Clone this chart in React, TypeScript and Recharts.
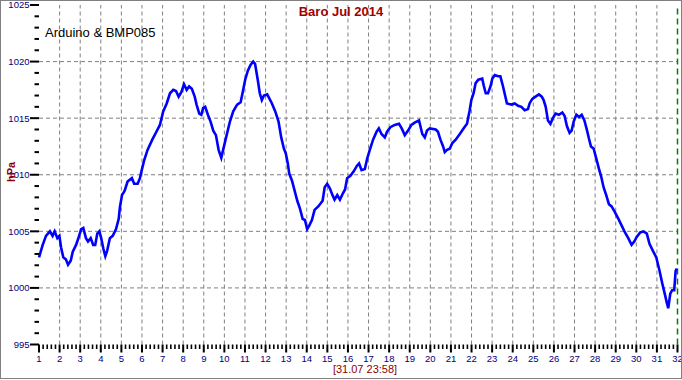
import React from "react";
import { LineChart, Line, XAxis, YAxis, ReferenceLine } from "recharts";

const DAYS = [
  1.0, 1.18, 1.34, 1.53, 1.66, 1.76, 1.89, 1.99, 2.07, 2.18, 2.31, 2.41, 2.54, 2.64, 2.8, 2.93,
  3.05, 3.15, 3.28, 3.38, 3.51, 3.63, 3.73, 3.83, 3.93, 4.02, 4.12, 4.22, 4.31, 4.44, 4.58, 4.74,
  4.87, 4.93, 5.03, 5.16, 5.3, 5.51, 5.62, 5.79, 5.9, 6.0, 6.11, 6.27, 6.5, 6.7, 6.87, 7.03,
  7.2, 7.36, 7.52, 7.65, 7.78, 7.91, 8.04, 8.17, 8.29, 8.42, 8.56, 8.65, 8.78, 8.88, 8.97, 9.07,
  9.2, 9.33, 9.46, 9.59, 9.72, 9.85, 9.94, 10.11, 10.27, 10.43, 10.62, 10.79, 10.88, 11.01, 11.14, 11.27,
  11.4, 11.49, 11.62, 11.72, 11.82, 11.92, 12.08, 12.31, 12.47, 12.63, 12.76, 12.89, 12.98, 13.08, 13.15, 13.28,
  13.41, 13.54, 13.67, 13.8, 13.91, 14.02, 14.12, 14.25, 14.38, 14.56, 14.77, 14.87, 14.99, 15.12, 15.25, 15.35,
  15.48, 15.61, 15.74, 15.86, 15.96, 16.12, 16.28, 16.44, 16.54, 16.66, 16.82, 16.93, 17.06, 17.22, 17.39, 17.5,
  17.63, 17.79, 17.9, 18.06, 18.27, 18.48, 18.61, 18.76, 18.92, 19.08, 19.24, 19.45, 19.61, 19.73, 19.84, 19.97,
  20.26, 20.37, 20.49, 20.62, 20.7, 20.81, 20.94, 21.07, 21.23, 21.43, 21.62, 21.78, 21.91, 21.99, 22.1, 22.2,
  22.33, 22.52, 22.59, 22.69, 22.8, 22.92, 23.01, 23.13, 23.29, 23.4, 23.53, 23.63, 23.72, 23.94, 24.1, 24.26,
  24.42, 24.58, 24.74, 24.82, 24.95, 25.11, 25.27, 25.41, 25.5, 25.6, 25.71, 25.83, 25.95, 26.08, 26.24, 26.41,
  26.52, 26.63, 26.76, 26.86, 26.96, 27.09, 27.22, 27.35, 27.48, 27.61, 27.7, 27.8, 27.93, 28.06, 28.19, 28.3,
  28.41, 28.54, 28.67, 28.8, 28.96, 29.13, 29.29, 29.45, 29.61, 29.77, 29.9, 30.02, 30.19, 30.35, 30.51, 30.64,
  30.8, 30.97, 31.13, 31.26, 31.38, 31.48, 31.55, 31.65, 31.74, 31.84, 31.91, 31.97,
];

const PRESSURE = [
  1002.7, 1003.8, 1004.6, 1005.0, 1004.6, 1005.0, 1004.4, 1004.6, 1003.6, 1002.7, 1002.5, 1002.05, 1002.4, 1003.2, 1003.8, 1004.5,
  1005.2, 1005.3, 1004.4, 1004.1, 1004.4, 1003.8, 1003.8, 1004.8, 1005.0, 1004.4, 1003.5, 1002.8, 1003.3, 1004.4, 1004.6, 1005.2,
  1006.1, 1007.15, 1008.2, 1008.6, 1009.4, 1009.7, 1009.2, 1009.2, 1009.7, 1010.5, 1011.3, 1012.2, 1013.1, 1013.8, 1014.4, 1015.6,
  1016.3, 1017.2, 1017.5, 1017.4, 1016.9, 1017.3, 1018.0, 1017.5, 1017.8, 1017.6, 1016.9, 1016.2, 1015.4, 1015.3, 1015.9, 1016.0,
  1015.3, 1014.7, 1013.9, 1013.5, 1012.2, 1011.5, 1012.2, 1013.5, 1014.7, 1015.6, 1016.2, 1016.4, 1017.2, 1018.4, 1019.2, 1019.7,
  1020.0, 1019.8, 1018.4, 1017.2, 1016.6, 1017.0, 1017.1, 1016.3, 1015.6, 1014.7, 1013.3, 1012.3, 1011.9, 1011.0, 1010.1, 1009.5,
  1008.6, 1007.7, 1007.0, 1006.1, 1006.0, 1005.2, 1005.5, 1006.0, 1006.9, 1007.2, 1007.7, 1008.9, 1009.2, 1008.8, 1008.2, 1007.8,
  1008.2, 1007.8, 1008.3, 1008.7, 1009.7, 1009.9, 1010.3, 1010.8, 1011.0, 1010.4, 1010.5, 1011.4, 1012.2, 1013.1, 1013.8, 1014.1,
  1013.6, 1013.3, 1013.8, 1014.2, 1014.4, 1014.5, 1014.1, 1013.5, 1013.9, 1014.4, 1014.6, 1014.8, 1013.6, 1013.3, 1013.9, 1014.1,
  1014.0, 1013.8, 1013.1, 1012.5, 1012.0, 1012.2, 1012.3, 1012.8, 1013.1, 1013.6, 1014.1, 1014.5, 1015.7, 1016.6, 1017.2, 1018.1,
  1018.4, 1018.5, 1017.9, 1017.2, 1017.2, 1017.8, 1018.5, 1018.8, 1018.7, 1018.7, 1017.8, 1017.0, 1016.3, 1016.2, 1016.3, 1016.1,
  1016.0, 1015.7, 1015.8, 1016.3, 1016.7, 1016.9, 1017.1, 1016.9, 1016.6, 1016.0, 1014.8, 1014.5, 1015.0, 1015.4, 1015.3, 1015.5,
  1015.2, 1014.3, 1013.7, 1013.9, 1014.7, 1015.3, 1015.1, 1015.3, 1014.8, 1013.9, 1013.2, 1012.5, 1012.3, 1011.4, 1010.5, 1009.8,
  1008.9, 1008.2, 1007.4, 1007.2, 1006.7, 1006.1, 1005.5, 1004.9, 1004.4, 1003.8, 1004.1, 1004.5, 1004.9, 1005.0, 1004.8, 1003.9,
  1003.3, 1002.7, 1001.5, 1000.4, 999.5, 998.7, 998.2, 999.5, 999.8, 999.8, 1001.5, 1001.7,
];

const DAY_TICKS = [1, 2, 3, 4, 5, 6, 7, 8, 9, 10, 11, 12, 13, 14, 15, 16, 17, 18, 19, 20, 21, 22, 23, 24, 25, 26, 27, 28, 29, 30, 31, 32];
const HPA_TICKS = [995, 1000, 1005, 1010, 1015, 1020, 1025];
const X_GRID = DAY_TICKS.slice(1, -1);
const Y_GRID = HPA_TICKS.slice(1, -1);
const MINOR_X = [0, 0.2, 0.4, 0.6, 0.8];
const MINOR_Y = [0, 1, 2, 3, 4];

const TITLE = "Baro Jul 2014";
const SUBTITLE = "Arduino & BMP085";
const Y_LABEL = "hPa";
const X_LABEL = "[31.07 23:58]";

const data = DAYS.map((d, i) => ({ day: d, p: PRESSURE[i] }));

const xTicks: number[] = [];
DAY_TICKS.forEach((d, i) => {
  if (i < DAY_TICKS.length - 1) MINOR_X.forEach((m) => xTicks.push(Math.round((d + m) * 100) / 100));
  else xTicks.push(d);
});
const yTicks: number[] = [];
HPA_TICKS.forEach((h, i) => {
  if (i < HPA_TICKS.length - 1) MINOR_Y.forEach((m) => yTicks.push(h + m));
  else yTicks.push(h);
});

const FONT = "'Liberation Sans', Arial, sans-serif";

const XTick = (props: any) => {
  const { x, y, payload } = props;
  const v = payload.value;
  const major = Math.abs(v - Math.round(v)) < 1e-6;
  return (
    <g>
      <line x1={x} x2={x} y1={y} y2={y + (major ? 8 : 4.5)} stroke="#000" strokeWidth={major ? 2 : 1.6} />
      {major && (
        <text x={x} y={y + 17.5} textAnchor="middle" fill="#000080" fontSize={9.5} fontFamily={FONT}>
          {v}
        </text>
      )}
    </g>
  );
};

const YTick = (props: any) => {
  const { x, y, payload } = props;
  const v = payload.value;
  const major = v % 5 === 0;
  return (
    <g>
      <line x1={x - (major ? 9 : 4.5)} x2={x} y1={y} y2={y} stroke="#000" strokeWidth={2} />
      {major && (
        <text x={x - 9.5} y={y + 3.4} textAnchor="end" fill="#000080" fontSize={9.5} fontFamily={FONT}>
          {v}
        </text>
      )}
    </g>
  );
};

export default function App() {
  return (
    <div style={{ position: "absolute", left: 0, top: 0, width: 682, height: 380, background: "#fff" }}>
      <LineChart width={682} height={380} data={data} margin={{ top: 5, right: 4.5, left: 0, bottom: 0 }}>
        <XAxis
          dataKey="day"
          type="number"
          domain={[1, 32]}
          ticks={xTicks}
          interval={0}
          axisLine={false}
          tickLine={false}
          tickSize={0}
          tickMargin={0}
          height={35.5}
          tick={<XTick />}
        />
        <YAxis
          type="number"
          domain={[995, 1025]}
          ticks={yTicks}
          interval={0}
          axisLine={false}
          tickLine={false}
          tickSize={0}
          tickMargin={0}
          width={39}
          tick={<YTick />}
        />
        {X_GRID.map((d) => (
          <ReferenceLine key={"vx" + d} x={d} stroke="#808080" strokeDasharray="4 3" strokeWidth={1} />
        ))}
        {Y_GRID.map((h) => (
          <ReferenceLine key={"hy" + h} y={h} stroke="#808080" strokeDasharray="4 3" strokeWidth={1} />
        ))}
        <ReferenceLine x={32} stroke="#008000" strokeDasharray="6 4" strokeWidth={1.5} />
        <Line
          type="linear"
          dataKey="p"
          stroke="#0000ff"
          strokeWidth={2.6}
          dot={false}
          isAnimationActive={false}
        />
      </LineChart>
      <div style={{ position: "absolute", left: 0, top: 4, width: 682, textAlign: "center", fontFamily: FONT, fontWeight: "bold", fontSize: 13, color: "#a00000", lineHeight: "15px" }}>
        {TITLE}
      </div>
      <div style={{ position: "absolute", left: 45, top: 25, fontFamily: FONT, fontSize: 13, color: "#000", lineHeight: "15px", whiteSpace: "nowrap" }}>
        {SUBTITLE}
      </div>
      <div style={{ position: "absolute", left: 365, top: 364, transform: "translateX(-50%)", fontFamily: FONT, fontSize: 11, color: "#900000", lineHeight: "11px", whiteSpace: "nowrap" }}>
        {X_LABEL}
      </div>
      <div style={{ position: "absolute", left: 11, top: 172, transform: "translate(-50%, -50%) rotate(-90deg)", fontFamily: FONT, fontWeight: "bold", fontSize: 11, color: "#900000", lineHeight: "13px", whiteSpace: "nowrap" }}>
        {Y_LABEL}
      </div>
      <div style={{ position: "absolute", left: 0, top: 0, width: 682, height: 379, boxSizing: "border-box", border: "1px solid #808080", pointerEvents: "none" }} />
    </div>
  );
}
